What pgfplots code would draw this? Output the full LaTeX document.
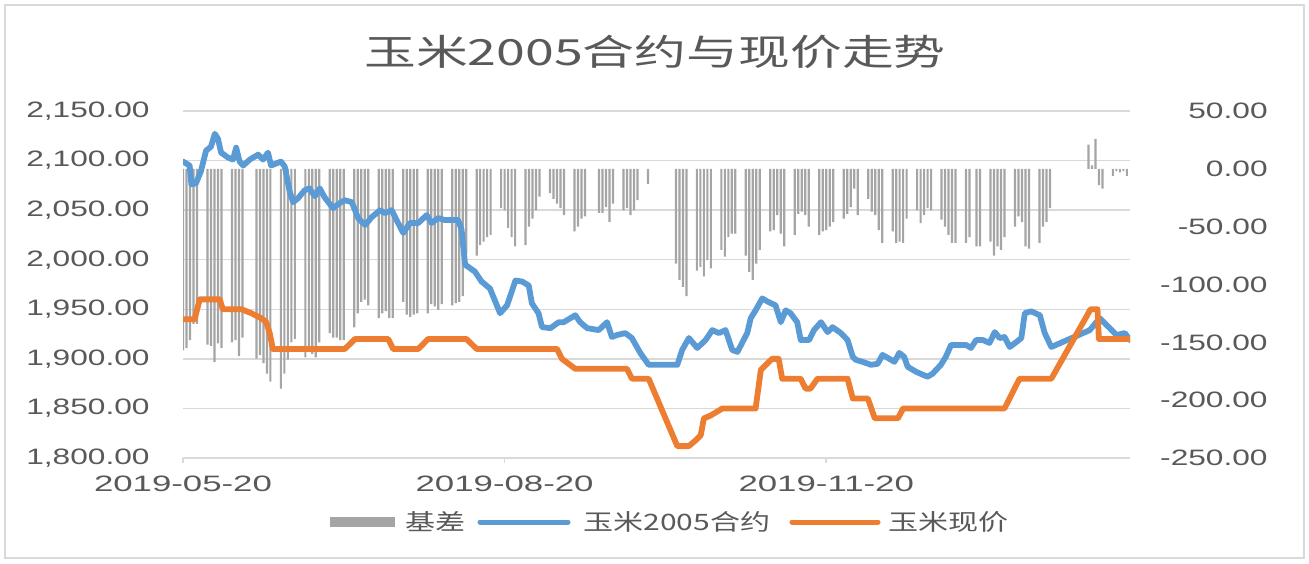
\documentclass[border=0pt]{standalone}
\usepackage{fontspec}
\setmainfont{Liberation Sans}[FakeStretch=1.42]
\newfontfamily\datefont{Liberation Sans}[FakeStretch=1.56]
\newfontfamily\cjk{Noto Sans CJK SC}[FakeStretch=1.44]
\newfontfamily\cjkleg{Noto Sans CJK SC}[FakeStretch=1.33]
\usepackage{pgfplots}
\usepackage{pgfplotstable}
\pgfplotsset{compat=1.18}

\definecolor{futc}{HTML}{5B9BD5}
\definecolor{spotc}{HTML}{ED7D31}
\definecolor{barc}{HTML}{A5A5A5}
\definecolor{gridc}{HTML}{D9D9D9}
\definecolor{txtc}{HTML}{595959}
\newcommand\tickfont{\fontsize{11.15}{13}\selectfont}

% basis (spot - futures), one row per trading day; day = days since 2019-05-20
\pgfplotstableread{
day basis
0 -157
1 -155
2 -148
3 -134
4 -134
7 -152
8 -153
9 -167
10 -151
11 -155
14 -150
15 -148
16 -162
17 -146
21 -164
22 -161
23 -168
24 -177
25 -184
28 -190
29 -177
30 -165
31 -150
32 -147
35 -163
36 -158
37 -160
38 -163
39 -150
42 -142
43 -146
44 -146
45 -148
46 -148
49 -137
50 -125
51 -115
52 -113
53 -118
56 -129
57 -125
58 -123
59 -129
60 -129
63 -115
64 -126
65 -128
66 -126
67 -125
70 -125
71 -117
72 -119
73 -122
74 -117
77 -118
78 -116
79 -115
80 -110
81 -73
84 -75
85 -66
86 -63
87 -59
88 -57
91 -34
92 -36
93 -51
94 -59
95 -67
98 -66
99 -50
100 -43
101 -36
102 -24
105 -21
106 -26
107 -30
108 -34
109 -40
112 -54
113 -50
114 -43
115 -41
119 -38
120 -38
121 -33
122 -46
123 -30
126 -36
127 -34
128 -40
129 -36
130 -27
133 -13
141 -82
142 -96
143 -102
144 -110
147 -88
148 -85
149 -93
150 -79
151 -86
154 -70
155 -76
156 -59
157 -56
158 -56
161 -75
162 -89
163 -96
164 -82
165 -70
168 -54
169 -53
170 -40
171 -56
172 -67
175 -57
176 -39
177 -37
178 -40
179 -50
182 -57
183 -54
184 -53
185 -50
186 -46
189 -43
190 -39
191 -33
192 -17
193 -40
196 -26
197 -37
198 -40
199 -53
200 -64
203 -54
204 -64
205 -63
206 -64
207 -43
210 -36
211 -47
212 -40
213 -34
214 -36
217 -44
218 -50
219 -57
220 -64
221 -64
224 -64
225 -59
227 -67
228 -67
231 -63
232 -75
233 -67
234 -70
235 -59
238 -50
239 -41
240 -46
241 -67
242 -69
245 -64
246 -50
247 -46
248 -34
259 21
260 3
261 26
262 -14
263 -17
266 -6
267 -2
268 -3
269 -2
270 -6
}\basis

\pgfplotsset{
  base/.style={at={(91.5pt,52.5pt)}, anchor=south west, scale only axis,
    width=473.5pt, height=173.5pt, xmin=0, xmax=270.9},
  labs/.style={tick label style={font=\tickfont, text=txtc, inner sep=0pt}},
}

\begin{document}
\begin{tikzpicture}[x=1pt,y=1pt]
\useasboundingbox (0,0) rectangle (654.5,281.5);
\draw[gridc, line width=0.8pt] (2.5,2.5) rectangle (652,279);

% grid, left scale, dates
\begin{axis}[base, labs,
  ymin=1800, ymax=2150,
  ytick={1800,1850,...,2150},
  yticklabels={{1,800.00},{1,850.00},{1,900.00},{1,950.00},{2,000.00},{2,050.00},{2,100.00},{2,150.00}},
  xtick={0,92,184}, xticklabels={2019-05-20,2019-08-20,2019-11-20},
  ymajorgrids, grid style={gridc, line width=0.75pt},
  axis line style={draw=none},
  xtick pos=left, ytick pos=left,
  ytick style={draw=none},
  xtick style={gridc, line width=0.75pt},
  tick align=outside, major tick length=2.5pt,
  yticklabel style={anchor=east, xshift=-14pt},
  xticklabel style={anchor=north, yshift=-6.5pt, font=\datefont\tickfont},
]
\end{axis}

% basis bars, right scale
\begin{axis}[base, labs,
  ymin=-250, ymax=50,
  ytick={-250,-200,...,50},
  yticklabels={-250.00,-200.00,-150.00,-100.00,-50.00,0.00,50.00},
  axis y line*=right, axis x line=none,
  y axis line style={draw=none}, ytick style={draw=none},
  yticklabel style={anchor=east, xshift=69pt},
]
\addplot[ybar, bar width=1.1pt, fill=barc, draw=none] table[x=day, y=basis] {\basis};
\end{axis}

% futures and spot
\begin{axis}[base, ymin=1800, ymax=2150, hide axis]
\addplot[futc, line width=2.9pt, line join=round, line cap=round] coordinates {
(0,2099) (1.9,2095) (2.4,2076) (3.7,2077) (5.1,2089) (6.6,2110) (8.0,2114) (9.1,2127) (10.0,2122) (10.9,2108)
(12.9,2103) (14.3,2101) (15.2,2113) (16.2,2099) (17.2,2095) (19.1,2101) (21.5,2106) (22.9,2101) (24.3,2108)
(25.2,2095) (26.6,2097) (28.0,2099) (29.1,2094) (30.5,2069) (31.5,2058) (32.9,2062) (34.8,2070) (36.2,2072)
(37.7,2064) (39.1,2072) (40.5,2063) (42.9,2052) (45.2,2058) (46.3,2060) (48.3,2058) (50.1,2042) (52.1,2035)
(54.0,2043) (56.4,2050) (57.8,2047) (59.7,2050) (61.1,2040) (63.0,2027) (64.9,2037) (67.3,2037) (69.7,2045)
(71.1,2037) (73.0,2042) (74.9,2040) (78.7,2040) (79.7,2030) (80.7,1995) (83.5,1988) (85.4,1978) (87.8,1971)
(90.7,1946) (92.7,1954) (95.1,1979) (97.0,1978) (98.9,1974) (99.8,1956) (101.7,1946) (102.7,1932) (105.1,1931)
(107.5,1937) (108.9,1937) (112.2,1944) (113.6,1937) (115.6,1931) (118.9,1929) (121.3,1937) (122.7,1922)
(124.1,1924) (126.5,1926) (128.4,1921) (130.8,1906) (133.2,1894) (141.4,1894) (142.8,1909) (144.7,1921)
(147.1,1911) (149.5,1919) (151.4,1929) (153.3,1926) (155.2,1929) (157.1,1909) (158.6,1907) (161.4,1926)
(162.4,1941) (163.8,1949) (165.7,1961) (167.1,1958) (169.5,1954) (171.0,1937) (172.4,1949) (173.8,1946)
(175.7,1937) (176.7,1919) (179.1,1919) (180.5,1929) (182.5,1937) (184.4,1927) (185.8,1932) (188.2,1926)
(190.1,1919) (191.6,1902) (192.5,1899) (194.4,1897) (196.8,1894) (198.7,1895) (200.1,1904) (201.6,1901)
(203.5,1897) (204.9,1906) (206.3,1902) (207.3,1892) (209.7,1887) (211.6,1884) (213.0,1882) (214.4,1885)
(216.8,1894) (218.2,1902) (219.7,1914) (222.1,1914) (224.0,1914) (225.4,1911) (226.9,1919) (228.8,1919)
(230.7,1916) (232.2,1927) (233.6,1921) (235.0,1922) (236.5,1912) (238.4,1917) (239.8,1921) (240.8,1946)
(242.6,1948) (245.1,1944) (246.5,1926) (248.4,1912) (259.4,1929) (262.2,1941) (265.1,1931) (267.0,1924)
(269.4,1926) (270.9,1919)
};
\addplot[spotc, line width=2.9pt, line join=round, line cap=round] coordinates {
(0,1940) (3.3,1940) (4.8,1960) (10.5,1960) (11.4,1950) (16.7,1950) (19.6,1946) (22.4,1941) (23.8,1937)
(24.8,1926) (25.7,1910) (46.3,1910) (49.2,1920) (58.7,1920) (60.1,1910) (67.3,1910) (70.1,1920) (81.1,1920)
(84.0,1910) (107.0,1910) (108.4,1900) (112.2,1890) (127.0,1890) (128.4,1880) (133.2,1880) (141.4,1812)
(144.7,1812) (146.7,1818) (148.1,1823) (149.0,1840) (151.0,1843) (154.3,1850) (163.8,1850) (165.3,1889)
(168.5,1900) (170.4,1900) (171.4,1880) (176.7,1880) (178.1,1870) (179.5,1870) (181.5,1880) (190.1,1880)
(191.6,1860) (195.9,1860) (197.9,1840) (204.5,1840) (206.0,1850) (235.0,1850) (239.3,1880) (248.4,1880)
(259.6,1950) (261.6,1950) (262.0,1920) (270.9,1920)
};
\end{axis}

% title
\node[text=txtc, font=\cjk\fontsize{18}{20}\selectfont] at (327.5,255.3) {玉米2005合约与现价走势};

% legend
\fill[barc] (165,18) rectangle (197.5,23);
\node[anchor=west, inner sep=0pt, text=txtc, font=\cjkleg\fontsize{11.3}{13}\selectfont] at (202.5,20.5) {基差};
\draw[futc, line width=2.5pt, line cap=round] (240,20.5) -- (284,20.5);
\node[anchor=west, inner sep=0pt, text=txtc, font=\cjkleg\fontsize{11.3}{13}\selectfont] at (291.5,20.5) {玉米2005合约};
\draw[spotc, line width=2.5pt, line cap=round] (396,20.5) -- (439,20.5);
\node[anchor=west, inner sep=0pt, text=txtc, font=\cjkleg\fontsize{11.3}{13}\selectfont] at (444,20.5) {玉米现价};
\end{tikzpicture}
\end{document}
